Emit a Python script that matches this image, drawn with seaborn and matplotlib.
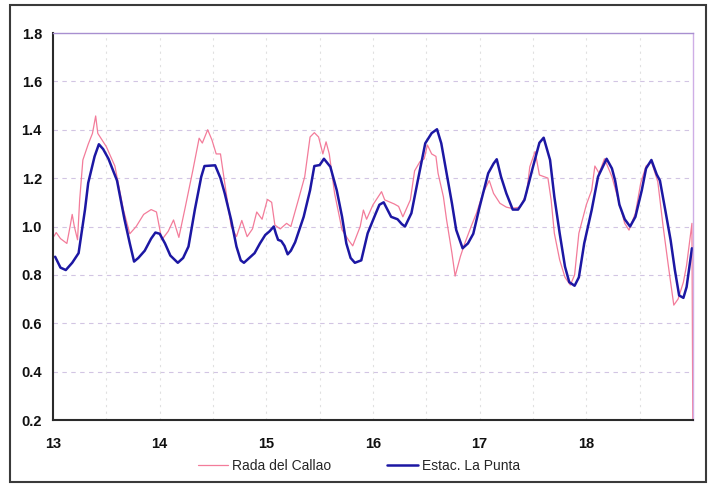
import numpy as np
import pandas as pd
import matplotlib
matplotlib.use("Agg")
import matplotlib.pyplot as plt
from matplotlib.patches import Rectangle
import seaborn as sns

# Estac. La Punta (day of month, sea level in m)
punta_day = [13.02, 13.07, 13.12, 13.18, 13.24, 13.30, 13.33, 13.39, 13.43, 13.47,
             13.52, 13.60, 13.67, 13.72, 13.76, 13.80, 13.86, 13.92, 13.96, 14.00,
             14.05, 14.10, 14.17, 14.22, 14.27, 14.33, 14.39, 14.42, 14.52, 14.57,
             14.61, 14.67, 14.72, 14.76, 14.79, 14.84, 14.89, 14.94, 14.99, 15.03,
             15.07, 15.09, 15.11, 15.14, 15.17, 15.20, 15.23, 15.27, 15.35, 15.41,
             15.45, 15.50, 15.54, 15.60, 15.66, 15.71, 15.75, 15.79, 15.83, 15.89,
             15.95, 16.02, 16.06, 16.10, 16.17, 16.23, 16.27, 16.30, 16.36, 16.42,
             16.49, 16.55, 16.60, 16.64, 16.69, 16.74, 16.78, 16.84, 16.89, 16.94,
             17.00, 17.08, 17.13, 17.16, 17.20, 17.25, 17.31, 17.36, 17.42, 17.50,
             17.56, 17.60, 17.66, 17.70, 17.75, 17.80, 17.84, 17.89, 17.93, 17.98,
             18.05, 18.11, 18.19, 18.24, 18.27, 18.31, 18.36, 18.41, 18.46, 18.52,
             18.56, 18.61, 18.66, 18.69, 18.74, 18.79, 18.83, 18.87, 18.91, 18.94,
             18.99]
punta_level = [0.875, 0.83, 0.82, 0.85, 0.89, 1.07, 1.18, 1.29, 1.34, 1.32,
               1.28, 1.19, 1.03, 0.93, 0.855, 0.87, 0.90, 0.95, 0.975, 0.97,
               0.93, 0.88, 0.85, 0.87, 0.917, 1.07, 1.206, 1.25, 1.253, 1.20,
               1.137, 1.027, 0.917, 0.86, 0.85, 0.87, 0.89, 0.93, 0.965, 0.98,
               1.0, 0.97, 0.945, 0.94, 0.92, 0.885, 0.90, 0.935, 1.04, 1.15,
               1.25, 1.254, 1.28, 1.247, 1.15, 1.04, 0.93, 0.87, 0.85, 0.86,
               0.972, 1.048, 1.09, 1.10, 1.04, 1.03, 1.01, 1.0, 1.055, 1.19,
               1.344, 1.386, 1.402, 1.344, 1.22, 1.096, 0.986, 0.91, 0.93, 0.97,
               1.082, 1.22, 1.26, 1.278, 1.206, 1.137, 1.07, 1.07, 1.11, 1.247,
               1.346, 1.367, 1.275, 1.123, 0.972, 0.834, 0.77, 0.755, 0.79, 0.93,
               1.068, 1.206, 1.28, 1.24, 1.19, 1.09, 1.03, 1.0, 1.04, 1.15,
               1.24, 1.275, 1.215, 1.19, 1.068, 0.944, 0.82, 0.715, 0.705, 0.75,
               0.91]

# Rada del Callao (day of month, sea level in m)
callao_day = [13.01, 13.03, 13.07, 13.13, 13.16, 13.18, 13.20, 13.23, 13.25, 13.28,
              13.33, 13.37, 13.40, 13.42, 13.50, 13.58, 13.66, 13.72, 13.78, 13.85,
              13.92, 13.97, 14.02, 14.08, 14.13, 14.18, 14.24, 14.31, 14.37, 14.40,
              14.45, 14.49, 14.53, 14.57, 14.63, 14.67, 14.72, 14.77, 14.82, 14.87,
              14.91, 14.96, 15.01, 15.05, 15.08, 15.13, 15.19, 15.23, 15.30, 15.36,
              15.41, 15.45, 15.49, 15.53, 15.56, 15.59, 15.64, 15.71, 15.77, 15.81,
              15.88, 15.91, 15.94, 16.00, 16.08, 16.11, 16.20, 16.24, 16.28, 16.35,
              16.39, 16.44, 16.48, 16.51, 16.55, 16.59, 16.61, 16.66, 16.69, 16.74,
              16.77, 16.82, 16.86, 16.92, 16.97, 17.03, 17.09, 17.13, 17.19, 17.25,
              17.30, 17.38, 17.44, 17.47, 17.52, 17.56, 17.64, 17.67, 17.70, 17.75,
              17.80, 17.85, 17.89, 17.93, 18.00, 18.05, 18.08, 18.12, 18.17, 18.24,
              18.30, 18.36, 18.40, 18.46, 18.51, 18.56, 18.61, 18.67, 18.72, 18.77,
              18.82, 18.86, 18.91, 18.94, 18.99, 19.00]
callao_level = [0.96, 0.975, 0.95, 0.93, 1.0, 1.05, 1.00, 0.945, 1.11, 1.275,
                1.34, 1.385, 1.457, 1.385, 1.33, 1.25, 1.07, 0.97, 1.0, 1.05,
                1.07, 1.06, 0.945, 0.98, 1.027, 0.955, 1.08, 1.23, 1.365, 1.345,
                1.40, 1.358, 1.30, 1.30, 1.12, 1.0, 0.958, 1.025, 0.958, 0.99,
                1.06, 1.03, 1.112, 1.10, 1.006, 0.99, 1.013, 1.0, 1.11, 1.206,
                1.37, 1.388, 1.37, 1.30, 1.35, 1.30, 1.137, 0.986, 0.944, 0.92,
                1.0, 1.068, 1.03, 1.09, 1.144, 1.11, 1.093, 1.083, 1.04, 1.11,
                1.23, 1.268, 1.28, 1.337, 1.30, 1.29, 1.22, 1.123, 1.027, 0.89,
                0.795, 0.877, 0.93, 1.0, 1.055, 1.137, 1.19, 1.137, 1.096, 1.08,
                1.075, 1.08, 1.137, 1.247, 1.31, 1.213, 1.2, 1.11, 0.972, 0.862,
                0.79, 0.758, 0.80, 0.972, 1.09, 1.15, 1.25, 1.22, 1.28, 1.206,
                1.11, 1.013, 0.985, 1.055, 1.18, 1.25, 1.268, 1.185, 1.0, 0.834,
                0.675, 0.70, 0.77, 0.84, 1.013, 0.0]

x_ticks = [13, 14, 15, 16, 17, 18]
y_ticks = [0.2, 0.4, 0.6, 0.8, 1.0, 1.2, 1.4, 1.6, 1.8]

sns.set_style("white")
plt.rcParams["font.family"] = ["Liberation Sans", "DejaVu Sans"]

fig = plt.figure(figsize=(7.22, 4.86), dpi=100)
ax = fig.add_axes([53 / 722, 1 - 420 / 486, 640 / 722, 387 / 486])

callao = pd.DataFrame({"dia": callao_day, "nivel": callao_level})
punta = pd.DataFrame({"dia": punta_day, "nivel": punta_level})

sns.lineplot(data=callao, x="dia", y="nivel", ax=ax, color="#f37c9a",
             linewidth=0.9, estimator=None, label="Rada del Callao")
sns.lineplot(data=punta, x="dia", y="nivel", ax=ax, color="#1c17a3",
             linewidth=1.8, estimator=None, label="Estac. La Punta")

ax.set_xlim(13, 19)
ax.set_ylim(0.2, 1.8)
ax.set_xticks(x_ticks)
ax.set_xticklabels([str(t) for t in x_ticks], fontweight="bold", fontsize=10.5)
ax.set_yticks(y_ticks)
ax.set_yticklabels([f"{t:.1f}" for t in y_ticks], fontweight="bold", fontsize=10.5)
ax.set_xlabel("")
ax.set_ylabel("")

# dashed gridlines: every 0.2 m and every half day
for yv in y_ticks[1:-1]:
    ax.axhline(yv, color="#d2c5e3", linestyle=(0, (4, 4)), linewidth=0.8, zorder=0)
for xv in np.arange(13.5, 19, 0.5):
    ax.axvline(xv, color="#e0e0e0", linestyle=(0, (2, 4)), linewidth=0.8, zorder=0)

ax.tick_params(axis="both", which="major", direction="out", length=3,
               width=1, color="#333333", labelcolor="#111111")
ax.tick_params(axis="x", pad=9)
ax.tick_params(axis="y", pad=5)
for side in ("left", "bottom"):
    ax.spines[side].set_color("#2a2a2a")
    ax.spines[side].set_linewidth(1.5)
ax.spines["top"].set_color("#a88fd0")
ax.spines["top"].set_linewidth(1.0)
ax.spines["right"].set_color("#cfaee6")
ax.spines["right"].set_linewidth(1.0)

ax.legend_.remove()
handles, labels = ax.get_legend_handles_labels()
fig.legend(handles, labels, loc="center", bbox_to_anchor=(0.497, 0.041), ncol=2,
           frameon=False, fontsize=10, handlelength=2.2, columnspacing=4.0,
           handletextpad=0.3)

# outer chart frame
fig.patches.append(Rectangle((10 / 722, 4 / 486), 696 / 722, 477 / 486,
                             transform=fig.transFigure, fill=False,
                             edgecolor="#3a3a3a", linewidth=1.5))

fig.savefig("out.png", dpi=100)
